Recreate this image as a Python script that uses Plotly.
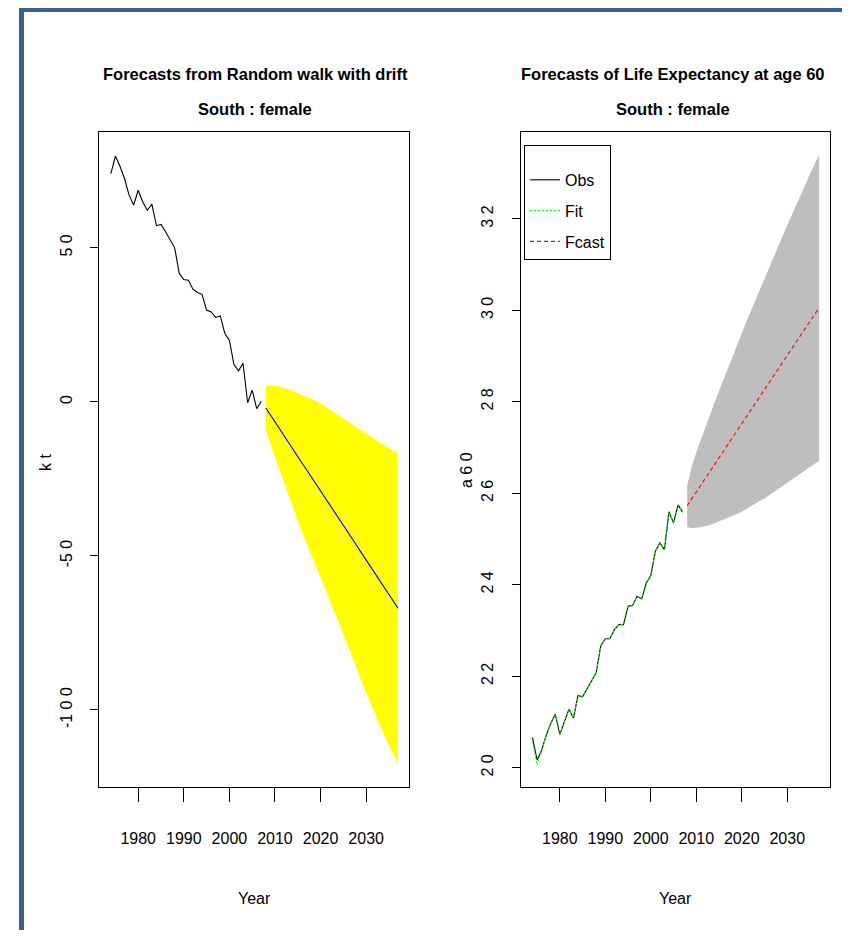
import plotly.graph_objects as go

# ---------------- data ----------------
obs_years = list(range(1974, 2008))
fc_years = list(range(2008, 2038))

kt_obs = [74.1, 79.8, 76.5, 72.5, 67.1, 63.9, 68.7, 64.9, 62.2, 64.2,
          57.2, 57.6, 55.2, 52.5, 50.0, 41.7, 39.7, 39.5, 36.6, 35.5,
          34.9, 29.8, 29.2, 27.4, 27.9, 22.2, 20.0, 12.1, 10.1, 12.5,
          -0.3, 3.8, -2.2, 0.2]
kt_mean = [-2.0, -4.3, -6.5, -8.7, -11.0, -13.2, -15.5, -17.7, -20.0, -22.2,
           -24.4, -26.7, -28.9, -31.2, -33.4, -35.6, -37.9, -40.1, -42.4, -44.6,
           -46.8, -49.1, -51.3, -53.6, -55.8, -58.0, -60.3, -62.5, -64.8, -67.0]
kt_upper = [5.0, 5.3, 5.3, 5.0, 4.6, 4.1, 3.5, 2.9, 2.3, 1.6,
            0.9, 0.2, -0.6, -1.5, -2.5, -3.5, -4.6, -5.5, -6.4, -7.4,
            -8.4, -9.4, -10.3, -11.3, -12.3, -13.2, -14.1, -15.0, -15.9, -16.8]
kt_lower = [-9.2, -13.5, -17.9, -22.2, -26.3, -30.4, -34.5, -38.5, -42.5, -46.4,
            -50.3, -53.9, -57.5, -61.0, -64.4, -68.0, -71.6, -75.3, -79.0, -82.9,
            -86.8, -90.8, -94.7, -98.1, -101.6, -105.0, -108.4, -111.6, -114.6, -117.4]

e60_obs = [20.66, 20.17, 20.38, 20.71, 20.97, 21.17, 20.73, 21.00, 21.28, 21.09,
           21.58, 21.55, 21.73, 21.91, 22.08, 22.67, 22.82, 22.82, 23.02, 23.13,
           23.13, 23.53, 23.55, 23.75, 23.69, 24.04, 24.20, 24.73, 24.92, 24.77,
           25.60, 25.35, 25.75, 25.59]
e60_fit = [20.58, 20.06, 20.36, 20.70, 20.96, 21.15, 20.75, 21.00, 21.27, 21.10,
           21.57, 21.55, 21.73, 21.91, 22.07, 22.66, 22.82, 22.82, 23.02, 23.13,
           23.13, 23.52, 23.55, 23.74, 23.69, 24.03, 24.20, 24.72, 24.92, 24.77,
           25.59, 25.35, 25.74, 25.59]
e60_mean = [25.73, 25.88, 26.03, 26.18, 26.33, 26.48, 26.63, 26.78, 26.93, 27.08,
            27.23, 27.38, 27.53, 27.68, 27.83, 27.98, 28.13, 28.28, 28.42, 28.57,
            28.72, 28.87, 29.02, 29.17, 29.32, 29.47, 29.62, 29.77, 29.92, 30.06]
e60_upper = [26.17, 26.58, 26.90, 27.18, 27.45, 27.72, 27.98, 28.24, 28.50, 28.75,
             29.00, 29.25, 29.50, 29.75, 29.99, 30.23, 30.47, 30.71, 30.94, 31.17,
             31.40, 31.63, 31.86, 32.09, 32.32, 32.54, 32.76, 32.98, 33.19, 33.40]
e60_lower = [25.26, 25.24, 25.25, 25.26, 25.28, 25.31, 25.34, 25.38, 25.42, 25.46,
             25.51, 25.55, 25.60, 25.65, 25.72, 25.78, 25.84, 25.89, 25.96, 26.03,
             26.10, 26.17, 26.23, 26.30, 26.37, 26.44, 26.51, 26.58, 26.64, 26.71]

x_ticks = [1980, 1990, 2000, 2010, 2020, 2030]
kt_ticks = [50, 0, -50, -100]
kt_ticktext = ["5 0", "0", "-5 0", "-1 0 0"]
e60_ticks = [20, 22, 24, 26, 28, 30, 32]
e60_ticktext = ["2 0", "2 2", "2 4", "2 6", "2 8", "3 0", "3 2"]

# ---------------- layout helpers ----------------
W, H = 834, 922          # page has an 8px body margin
FONT = "Liberation Sans, Arial, Helvetica, sans-serif"

def px(x):
    return x / W

def py(y):
    return (H - y) / H

fig = go.Figure()

# left panel
fig.add_trace(go.Scatter(x=fc_years + fc_years[::-1], y=kt_upper + kt_lower[::-1],
                         fill="toself", fillcolor="#FFFF00", mode="lines",
                         line=dict(width=0, color="#FFFF00"), hoverinfo="skip",
                         showlegend=False, xaxis="x", yaxis="y"))
fig.add_trace(go.Scatter(x=obs_years, y=kt_obs, mode="lines",
                         line=dict(color="black", width=1.1),
                         showlegend=False, xaxis="x", yaxis="y"))
fig.add_trace(go.Scatter(x=fc_years, y=kt_mean, mode="lines",
                         line=dict(color="#0000FF", width=1.1),
                         showlegend=False, xaxis="x", yaxis="y"))

# right panel
fig.add_trace(go.Scatter(x=fc_years + fc_years[::-1], y=e60_upper + e60_lower[::-1],
                         fill="toself", fillcolor="#BEBEBE", mode="lines",
                         line=dict(width=0, color="#BEBEBE"), hoverinfo="skip",
                         showlegend=False, xaxis="x2", yaxis="y2"))
fig.add_trace(go.Scatter(x=obs_years, y=e60_obs, mode="lines", name="Obs",
                         legendgroup="a", line=dict(color="black", width=1.1),
                         xaxis="x2", yaxis="y2"))
fig.add_trace(go.Scatter(x=obs_years, y=e60_fit, mode="lines", name="Fit",
                         legendgroup="b", line=dict(color="#00FF00", width=1.1, dash="2px,2px"),
                         xaxis="x2", yaxis="y2"))
fig.add_trace(go.Scatter(x=fc_years, y=e60_mean, mode="lines", name="Fcast",
                         legendgroup="c", line=dict(color="#FF0000", width=1.1, dash="4px,3px"),
                         xaxis="x2", yaxis="y2"))

xcommon = dict(range=[1971.4, 2039.4], tickvals=x_ticks, ticks="outside", ticklen=14,
               tickwidth=1, tickcolor="black", showline=True, mirror=True,
               linecolor="black", linewidth=1, showgrid=False, zeroline=False,
               tickfont=dict(family=FONT, size=16, color="black"),
               ticklabelstandoff=23)
ycommon = dict(ticks="outside", ticklen=8, tickwidth=1, tickcolor="black",
               showline=True, mirror=True, linecolor="black", linewidth=1,
               showgrid=False, zeroline=False, tickangle=-90,
               tickfont=dict(family=FONT, size=16, color="black"),
               ticklabelstandoff=12)

ydom = [py(779), py(124)]
fig.update_layout(
    width=W, height=H, margin=dict(l=0, r=0, t=0, b=0),
    paper_bgcolor="white", plot_bgcolor="white",
    font=dict(family=FONT, color="black"),
    xaxis=dict(domain=[px(91), px(401)], anchor="y", **xcommon),
    yaxis=dict(domain=ydom, anchor="x", range=[-125.0, 87.6], tickvals=kt_ticks,
               ticktext=kt_ticktext, **ycommon),
    xaxis2=dict(domain=[px(512.7), px(822)], anchor="y2", **xcommon),
    yaxis2=dict(domain=ydom, anchor="x2", range=[19.58, 33.9], tickvals=e60_ticks,
                ticktext=e60_ticktext, **ycommon),
    legend=dict(x=px(516), y=py(137), xanchor="left", yanchor="top",
                bgcolor="white", bordercolor="black", borderwidth=1,
                font=dict(family=FONT, size=16, color="black"),
                traceorder="grouped", tracegroupgap=7, itemwidth=30,
                title=dict(text="&nbsp;", font=dict(size=13))),
    showlegend=True,
)

ann = []
def text(x, y, s, size, bold=False, angle=0):
    ann.append(dict(x=px(x), y=py(y), xref="paper", yref="paper", text=("<b>%s</b>" % s) if bold else s,
                    showarrow=False, xanchor="center", yanchor="middle", textangle=angle,
                    font=dict(family=FONT, size=size, color="black")))

text(247, 66, "Forecasts from Random walk with drift", 16.5, bold=True)
text(247, 101, "South : female", 16.5, bold=True)
text(665, 66, "Forecasts of Life Expectancy at age 60", 16.5, bold=True)
text(665, 101, "South : female", 16.5, bold=True)
text(246, 890, "Year", 16)
text(667, 890, "Year", 16)
text(37, 455, "k t", 16, angle=-90)
text(458, 462, "a 6 0", 16, angle=-90)
fig.update_layout(annotations=ann)

# blue page frame (top and left)
BLUE = "#3C6090"
fig.add_shape(type="rect", xref="paper", yref="paper", x0=px(11), x1=px(16), y0=0, y1=py(0),
              line=dict(width=0), fillcolor=BLUE, layer="above")
fig.add_shape(type="rect", xref="paper", yref="paper", x0=px(11), x1=1, y0=py(4), y1=py(-1),
              line=dict(width=0), fillcolor=BLUE, layer="above")

fig.write_html("out.html")
